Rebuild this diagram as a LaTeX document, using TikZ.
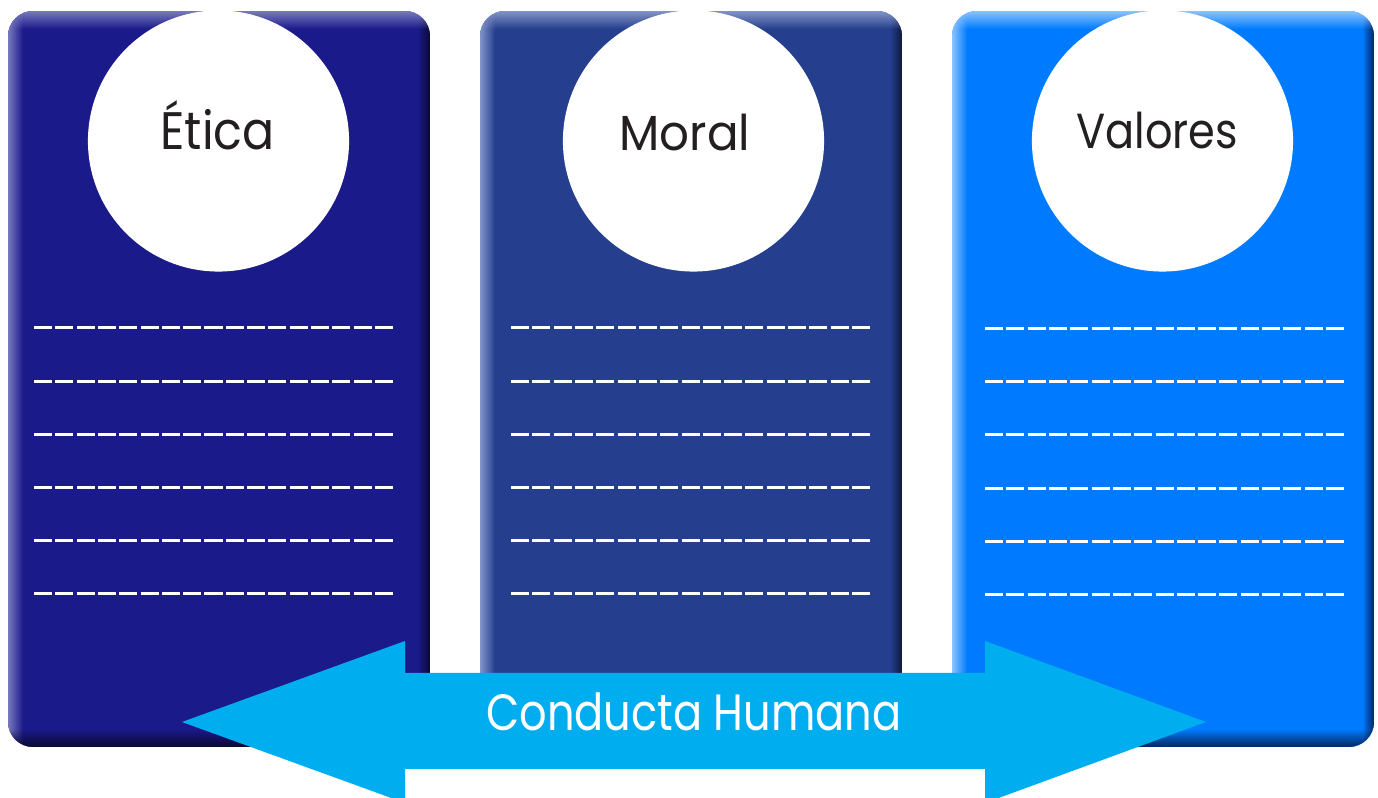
\documentclass[tikz,border=0pt]{standalone}
\usepackage{fontspec}
\usepackage{graphicx}
\setmainfont{Poppins}
\usetikzlibrary{fadings}
\definecolor{pOne}{RGB}{27,26,138}
\definecolor{pOneL}{RGB}{120,122,190}
\definecolor{pOneD}{RGB}{10,10,50}
\definecolor{pTwo}{RGB}{37,63,142}
\definecolor{pTwoL}{RGB}{130,148,200}
\definecolor{pTwoD}{RGB}{15,25,60}
\definecolor{pThree}{RGB}{0,123,255}
\definecolor{pThreeL}{RGB}{140,196,255}
\definecolor{pThreeD}{RGB}{0,40,95}
\definecolor{arrowcol}{RGB}{0,174,239}
\definecolor{txtcol}{RGB}{35,31,32}
\tikzfading[name=fadeR, left color=transparent!0, right color=transparent!100]
\tikzfading[name=fadeL, left color=transparent!100, right color=transparent!0]
\tikzfading[name=fadeD, top color=transparent!0, bottom color=transparent!100]
\tikzfading[name=fadeU, top color=transparent!100, bottom color=transparent!0]
\tikzset{
  head/.style={circle, fill=white, minimum size=2.61cm, inner sep=0pt},
  headtxt/.style={anchor=base, text=txtcol, font=\fontsize{14}{16}\selectfont},
  dashline/.style={white, line width=0.85pt, dash pattern=on 0.18cm off 0.033cm},
  bigarrow/.style={fill=arrowcol},
  arrowtxt/.style={anchor=base, text=white, font=\fontsize{14.5}{16}\selectfont}
}
\newcommand{\panelbox}[5]{%
  \begin{scope}
    \clip[rounded corners=0.25cm] (#1,11) rectangle (#2,747);
    \fill[#3] (#1,11) rectangle (#2,747);
    \fill[#4, path fading=fadeR] (#1,11) rectangle ({#1+15},747);
    \fill[#5, path fading=fadeL] ({#2-12},11) rectangle (#2,747);
    \fill[#4, path fading=fadeD] (#1,11) rectangle (#2,29);
    \fill[#5, path fading=fadeU] (#1,729) rectangle (#2,747);
  \end{scope}}
\begin{document}
\begin{tikzpicture}[x=0.01cm, y=-0.01cm]
\useasboundingbox (0,0) rectangle (1378,798);
\clip (0,0) rectangle (1378,798);
% panels
\panelbox{8}{430}{pOne}{pOneL}{pOneD}
\panelbox{480}{902}{pTwo}{pTwoL}{pTwoD}
\panelbox{952}{1374}{pThree}{pThreeL}{pThreeD}
% circles
\node[head] (c1) at (218.5,141) {};
\node[head] (c2) at (693.5,141) {};
\node[head] (c3) at (1162.5,141) {};
\node[headtxt, font=\fontsize{15}{17}\selectfont] (t1) at (217.5,150) {\scalebox{0.9}[1]{Ética}};
\node[headtxt] (t2) at (685,151) {\scalebox{0.95}[1]{Moral}};
\node[headtxt] (t3) at (1157,149) {\scalebox{0.875}[1]{Valores}};
% dashed lines
\foreach \i in {0,...,5} {
  \draw[dashline] (34,{328+53.2*\i}) -- (394,{328+53.2*\i});
  \draw[dashline] (511,{328+53.2*\i}) -- (870,{328+53.2*\i});
  \draw[dashline] (985,{328.5+53.2*\i}) -- (1344,{328.5+53.2*\i});
}
% double arrow
\fill[bigarrow] (182,722) -- (405,641) -- (405,673) -- (985,673) -- (985,641)
  -- (1206,722) -- (985,803) -- (985,769) -- (405,769) -- (405,803) -- cycle;
\node[arrowtxt] (ct) at (694,731) {\scalebox{0.845}[1]{Conducta Humana}};
\end{tikzpicture}
\end{document}
